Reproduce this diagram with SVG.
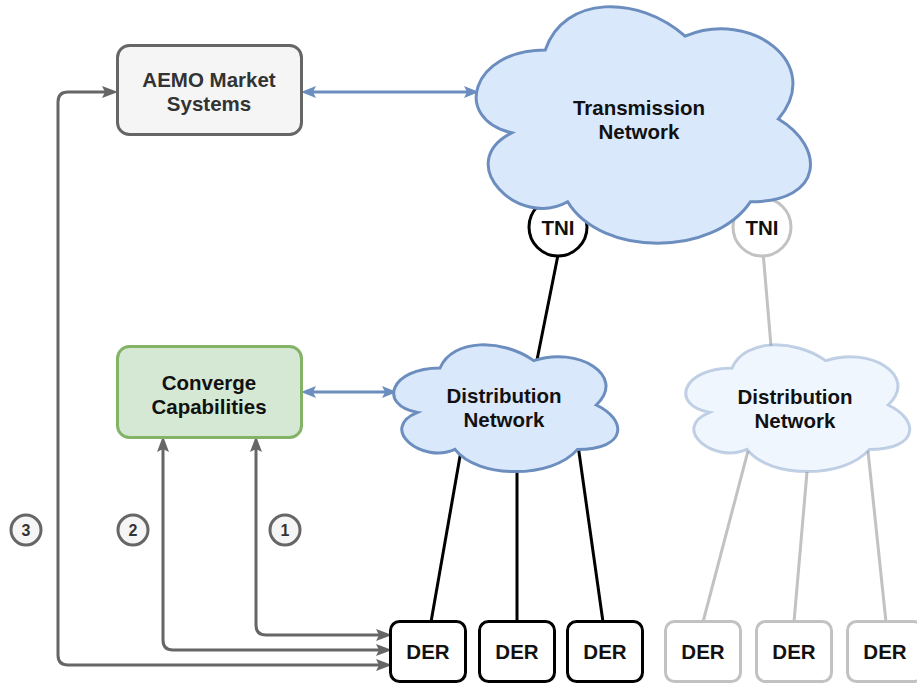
<svg xmlns="http://www.w3.org/2000/svg" width="917" height="684" viewBox="0 0 917 684">
  <defs>
    <style>
      .lbl { font-family: "Liberation Sans", Arial, Helvetica, sans-serif; font-weight: bold; font-size: 20.5px; text-anchor: middle; fill: #111111; }
      .lbl-grey { fill: #333333; }
      .num { font-family: "Liberation Sans", Arial, Helvetica, sans-serif; font-weight: bold; font-size: 16px; text-anchor: middle; fill: #333333; }
      .wire { fill: none; stroke: #000000; stroke-width: 3; }
      .wire-faded { fill: none; stroke: #c2c2c2; stroke-width: 3; }
      .link-blue { fill: none; stroke: #6c8ebf; stroke-width: 3; marker-start: url(#headBlue); marker-end: url(#headBlue); }
      .link-grey { fill: none; stroke: #666666; stroke-width: 3; marker-start: url(#headGrey); marker-end: url(#headGrey); }
      .der { fill: #ffffff; stroke: #000000; stroke-width: 3; }
      .der-faded { fill: #ffffff; stroke: #c2c2c2; stroke-width: 3; }
      .tni { fill: #ffffff; stroke: #000000; stroke-width: 3; }
      .tni-faded { fill: #ffffff; stroke: #c2c2c2; stroke-width: 3; }
      .cloud { fill: #dae8fc; stroke: #6c8ebf; stroke-width: 3; }
      .cloud-faded { fill: #dae8fc; stroke: #6c8ebf; stroke-width: 3; fill-opacity: 0.4; stroke-opacity: 0.4; }
      .badge { fill: #f5f5f5; stroke: #666666; stroke-width: 3; }
    </style>
    <marker id="headBlue" viewBox="0 0 15 12" refX="7" refY="6" markerWidth="15" markerHeight="12" markerUnits="userSpaceOnUse" orient="auto-start-reverse">
      <path d="M0,0 L15,6 L0,12 L3,6 Z" fill="#6c8ebf"/>
    </marker>
    <marker id="headGrey" viewBox="0 0 16 12" refX="7" refY="6" markerWidth="16" markerHeight="12" markerUnits="userSpaceOnUse" orient="auto-start-reverse">
      <path d="M0,0 L16,6 L0,12 L3,6 Z" fill="#666666"/>
    </marker>
  </defs>

  <rect width="917" height="684" fill="#ffffff"/>

  <!-- connectors -->
  <g id="connectors">
    <!-- network links -->
    <path class="wire" d="M561,240 L535,370"/>
    <path class="wire-faded" d="M762,240 L771,346"/>
    <path class="wire" d="M462,445 L431,622"/>
    <path class="wire" d="M517,450 L517,622"/>
    <path class="wire" d="M578,445 L603,622"/>
    <path class="wire-faded" d="M748,451 L703,622"/>
    <path class="wire-faded" d="M807,472 L794,622"/>
    <path class="wire-faded" d="M868,451 L886,622"/>
    <!-- data exchange -->
    <path class="link-blue" d="M309,92 H471"/>
    <path class="link-blue" d="M309,392 H389"/>
    <!-- numbered interaction paths -->
    <path class="link-grey" d="M383,635 H266 Q256,635 256,625 V445"/>
    <path class="link-grey" d="M383,650 H173 Q163,650 163,640 V445"/>
    <path class="link-grey" d="M383,665 H68 Q58,665 58,655 V102 Q58,92 68,92 H109"/>
  </g>

  <!-- transmission network interfaces -->
  <g id="tni-1">
    <circle class="tni" cx="558" cy="227" r="29"/>
    <text class="lbl" x="558" y="235">TNI</text>
  </g>
  <g id="tni-2">
    <circle class="tni-faded" cx="762" cy="227" r="29"/>
    <text class="lbl" x="762" y="235">TNI</text>
  </g>

  <g id="transmission-network">
    <path class="cloud" d="M545.25,50 C470.65,50 452,119 511.68,132.8 C452,163.16 519.14,229.4 567.63,201.8 C601.2,257 713.1,257 750.4,201.8 C825,201.8 825,146.6 778.38,119 C825,63.8 750.4,8.6 685.13,36.2 C638.5,-5.2 563.9,-5.2 545.25,50 Z"/>
    <text class="lbl" x="639" y="115">Transmission</text>
    <text class="lbl" x="639" y="139">Network</text>
  </g>

  <g id="distribution-network-1">
    <path class="cloud" d="M440,368 C390,368 377.5,405 417.5,412.4 C377.5,428.68 422.5,464.2 455,449.4 C477.5,479 552.5,479 577.5,449.4 C627.5,449.4 627.5,419.8 596.25,405 C627.5,375.4 577.5,345.8 533.75,360.6 C502.5,338.4 452.5,338.4 440,368 Z"/>
    <text class="lbl" x="504" y="403">Distribution</text>
    <text class="lbl" x="504" y="427">Network</text>
  </g>

  <g id="distribution-network-2">
    <path class="cloud-faded" d="M732,368 C682,368 669.5,405 709.5,412.4 C669.5,428.68 714.5,464.2 747,449.4 C769.5,479 844.5,479 869.5,449.4 C919.5,449.4 919.5,419.8 888.25,405 C919.5,375.4 869.5,345.8 825.75,360.6 C794.5,338.4 744.5,338.4 732,368 Z"/>
    <text class="lbl" x="795" y="404">Distribution</text>
    <text class="lbl" x="795" y="428">Network</text>
  </g>

  <g id="aemo-market-systems">
    <rect x="117.5" y="45.5" width="184" height="89" rx="12" fill="#f5f5f5" stroke="#666666" stroke-width="3"/>
    <text class="lbl lbl-grey" x="209" y="87">AEMO Market</text>
    <text class="lbl lbl-grey" x="209" y="111">Systems</text>
  </g>

  <g id="converge-capabilities">
    <rect x="117.5" y="346.5" width="184" height="91" rx="12" fill="#d5e8d4" stroke="#82b366" stroke-width="3"/>
    <text class="lbl" x="209" y="390">Converge</text>
    <text class="lbl" x="209" y="414">Capabilities</text>
  </g>

  <!-- distributed energy resources -->
  <g id="der-1">
    <rect class="der" x="390.5" y="621.5" width="75" height="60" rx="9"/>
    <text class="lbl" x="428" y="659">DER</text>
  </g>
  <g id="der-2">
    <rect class="der" x="479.5" y="621.5" width="75" height="60" rx="9"/>
    <text class="lbl" x="517" y="659">DER</text>
  </g>
  <g id="der-3">
    <rect class="der" x="567.5" y="621.5" width="75" height="60" rx="9"/>
    <text class="lbl" x="605" y="659">DER</text>
  </g>
  <g id="der-4">
    <rect class="der-faded" x="665.5" y="621.5" width="75" height="60" rx="9"/>
    <text class="lbl" x="703" y="659">DER</text>
  </g>
  <g id="der-5">
    <rect class="der-faded" x="756.5" y="621.5" width="75" height="60" rx="9"/>
    <text class="lbl" x="794" y="659">DER</text>
  </g>
  <g id="der-6">
    <rect class="der-faded" x="847.5" y="621.5" width="75" height="60" rx="9"/>
    <text class="lbl" x="885" y="659">DER</text>
  </g>

  <!-- step badges -->
  <g id="step-1">
    <circle class="badge" cx="285" cy="530" r="15"/>
    <text class="num" x="285" y="535.5">1</text>
  </g>
  <g id="step-2">
    <circle class="badge" cx="133" cy="530" r="15"/>
    <text class="num" x="133" y="535.5">2</text>
  </g>
  <g id="step-3">
    <circle class="badge" cx="26" cy="530" r="15"/>
    <text class="num" x="26" y="535.5">3</text>
  </g>
</svg>
